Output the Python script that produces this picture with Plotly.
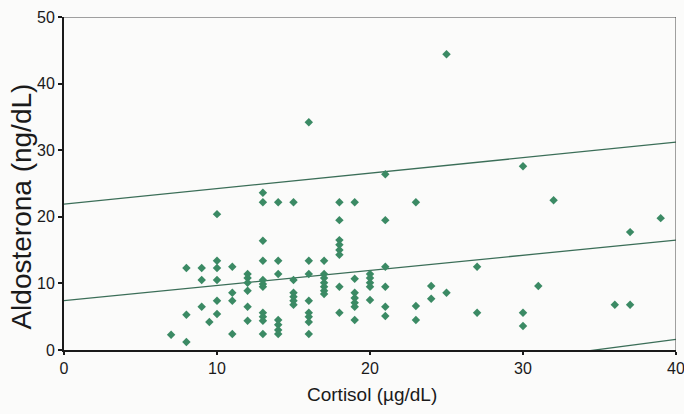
import plotly.graph_objects as go

# Cortisol (µg/dL) and aldosterone (ng/dL) per patient
cortisol = [
    7,
    8, 8, 8,
    9, 9, 9,
    9.5,
    10, 10, 10, 10, 10, 10,
    11, 11, 11, 11,
    12, 12, 12, 12, 12, 12,
    13, 13, 13, 13, 13, 13, 13, 13, 13, 13, 13,
    14, 14, 14, 14, 14, 14, 14,
    15, 15, 15, 15, 15, 15,
    16, 16, 16, 16, 16, 16, 16, 16,
    17, 17, 17, 17, 17, 17, 17,
    18, 18, 18, 18, 18, 18, 18, 18,
    19, 19, 19, 19, 19, 19, 19,
    20, 20, 20, 20, 20,
    21, 21, 21, 21, 21, 21,
    23, 23, 23,
    24, 24,
    25, 25,
    27, 27,
    30, 30, 30,
    31,
    32,
    36,
    37, 37,
    39,
]
aldosterone = [
    2.3,
    12.3, 5.3, 1.2,
    12.3, 10.5, 6.5,
    4.2,
    20.4, 13.4, 12.3, 10.5, 7.4, 5.4,
    12.5, 8.6, 7.4, 2.4,
    11.4, 10.8, 10.1, 8.9, 6.5, 4.4,
    23.6, 22.2, 16.4, 13.4, 10.5, 9.9, 9.5, 5.6, 5.0, 4.4, 2.4,
    22.2, 13.4, 11.4, 4.5, 3.8, 3.0, 2.4,
    22.2, 10.5, 8.6, 8.0, 7.4, 6.8,
    34.2, 13.4, 11.4, 7.4, 5.6, 5.0, 4.2, 2.4,
    13.4, 11.4, 10.8, 10.1, 9.5, 8.9, 8.4,
    22.2, 19.5, 16.5, 15.8, 15.0, 14.3, 9.5, 5.6,
    22.2, 10.7, 8.6, 7.8, 7.1, 6.5, 4.5,
    11.4, 10.8, 10.1, 9.5, 7.5,
    26.4, 19.5, 12.5, 9.5, 6.5, 5.1,
    22.2, 6.6, 4.5,
    9.6, 7.7,
    44.4, 8.6,
    12.5, 5.6,
    27.6, 5.6, 3.6,
    9.6,
    22.5,
    6.8,
    17.7, 6.8,
    19.8,
]

# Regression line and 95% prediction limits, at the ends of the x range
line_x = [0, 40]
fit_y = [7.4, 16.5]
upper_y = [21.9, 31.2]
lower_y = [-10.5, 1.6]

x_ticks = [0, 10, 20, 30, 40]
y_ticks = [0, 10, 20, 30, 40, 50]

font_family = "Liberation Sans Narrow, Liberation Sans, Arial, sans-serif"
marker_color = "#3b8a64"
line_color = "#3b6e58"

fig = go.Figure()

for ys in (upper_y, fit_y, lower_y):
    fig.add_trace(go.Scatter(
        x=line_x, y=ys, mode="lines",
        line=dict(color=line_color, width=1.3),
        hoverinfo="skip", showlegend=False,
    ))

fig.add_trace(go.Scatter(
    x=cortisol, y=aldosterone, mode="markers",
    marker=dict(symbol="diamond", size=6.5, color=marker_color),
    showlegend=False,
))

# thin frame on the top and right sides
fig.add_shape(type="line", xref="x", yref="y", x0=0, y0=50, x1=40, y1=50,
              line=dict(color="#444444", width=1))
fig.add_shape(type="line", xref="x", yref="y", x0=40, y0=0, x1=40, y1=50,
              line=dict(color="#444444", width=1))

fig.add_annotation(
    text="Aldosterona (ng/dL)", xref="paper", yref="paper",
    x=-0.069, y=0.43, xanchor="center", yanchor="middle",
    textangle=-90, showarrow=False,
    font=dict(family=font_family, size=28, color="#1a1a1a"),
)
fig.add_annotation(
    text="Cortisol (µg/dL)", xref="paper", yref="paper",
    x=0.503, y=-0.135, xanchor="center", yanchor="middle",
    showarrow=False,
    font=dict(family=font_family, size=19, color="#1a1a1a"),
)

fig.update_layout(
    width=684, height=414,
    margin=dict(l=64, r=8, t=17, b=64, autoexpand=False),
    paper_bgcolor="#fbfbfa",
    plot_bgcolor="#fbfbfa",
    font=dict(family=font_family, size=16, color="#1a1a1a"),
    showlegend=False,
)
fig.update_xaxes(
    range=[0, 40], tickvals=x_ticks, showgrid=False, zeroline=False,
    showline=True, linecolor="#1a1a1a", linewidth=2,
    ticks="outside", ticklen=3, tickwidth=2, tickcolor="#1a1a1a",
    tickfont=dict(size=16), ticklabeloverflow="allow", automargin=False,
)
fig.update_yaxes(
    range=[0, 50], tickvals=y_ticks, showgrid=False, zeroline=False,
    showline=True, linecolor="#1a1a1a", linewidth=2,
    ticks="outside", ticklen=4, tickwidth=2, tickcolor="#1a1a1a",
    tickfont=dict(size=16), ticklabeloverflow="allow", automargin=False,
)

fig.write_html("out.html")
